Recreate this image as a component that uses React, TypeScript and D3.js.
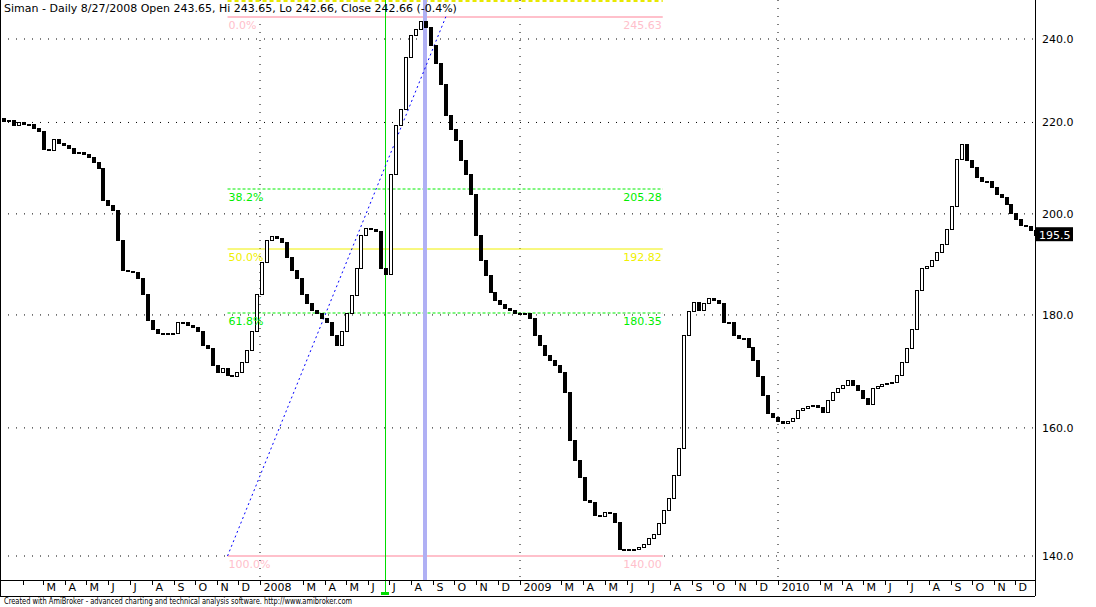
import React from "react";
import * as d3 from "d3";

// weekly closes (Friday of each week)
const closes2007 = [220.3, 220.5, 219.2, 220.0, 219.6, 219.5, 218.7, 218.0, 213.8, 213.6, 216.2, 215.3, 214.8, 214.2, 213.1, 213.3, 212.7, 212.0, 211.0, 209.6, 202.9, 201.8, 200.8, 194.6, 188.6, 188.4, 188.2, 187.0, 183.8, 179.0, 177.2, 176.6, 176.5, 176.5, 176.5, 178.6, 178.5, 178.0, 177.6, 176.9, 174.4, 173.9, 170.8, 169.5, 170.2, 169.0, 168.8, 169.5, 171.3, 173.5, 176.9, 183.8];
const closes2008 = [190.2, 194.6, 195.4, 195.0, 194.2, 191.2, 188.6, 187.0, 183.8, 182.2, 180.9, 180.2, 179.4, 178.5, 176.1, 174.4, 176.9, 180.3, 183.6, 189.0, 195.6, 197.0, 196.7, 196.3, 189.0, 187.8, 208.3, 219.4, 222.9, 235.3, 241.0, 242.3, 244.3, 242.8, 238.5, 234.0, 228.8, 221.6, 218.4, 216.0, 211.5, 208.3, 204.0, 195.6, 190.6, 187.6, 184.3, 182.8, 181.9, 181.3, 180.9, 180.3];
const closes2009 = [180.0, 180.2, 179.4, 176.1, 174.4, 172.6, 171.7, 170.8, 169.5, 166.0, 157.9, 154.7, 152.0, 148.4, 148.1, 146.1, 145.9, 146.5, 146.4, 145.0, 140.9, 140.9, 141.0, 140.9, 141.3, 141.7, 142.6, 143.1, 144.9, 146.8, 148.7, 152.3, 156.6, 176.1, 180.7, 182.4, 180.9, 182.2, 183.2, 182.8, 182.2, 178.5, 178.6, 176.1, 175.7, 175.7, 174.0, 171.7, 168.8, 165.5, 162.4, 161.7];
const closes2010 = [161.0, 160.7, 161.0, 161.5, 162.9, 163.3, 163.6, 163.8, 163.4, 162.6, 164.7, 166.1, 166.7, 167.3, 168.1, 167.3, 166.4, 165.0, 164.0, 166.7, 167.0, 167.4, 167.6, 167.8, 169.0, 171.3, 173.9, 177.2, 184.7, 189.0, 189.4, 190.6, 192.2, 193.8, 196.7, 201.5, 211.7, 215.0, 211.5, 209.8, 207.7, 206.8, 206.8, 205.5, 204.0, 203.4, 201.9, 200.0, 198.8, 197.6, 197.4, 196.5, 195.5];
const firstOpen = 220.8;

const priceTicks = [140, 160, 180, 200, 220, 240];
const monthLetters = ["J", "F", "M", "A", "M", "J", "J", "A", "S", "O", "N", "D"];

const fibPercents = ["0.0%", "38.2%", "50.0%", "61.8%", "100.0%"];
const fibPrices = [245.63, 205.28, 192.82, 180.35, 140.0];
const fibColors = ["#ffc0cb", "#00ee00", "#f0f000", "#00ee00", "#ffc0cb"];

const title = "Siman - Daily 8/27/2008 Open 243.65, Hi 243.65, Lo 242.66, Close 242.66 (-0.4%)";
const lastValue = 195.5;

const W = 1096;
const H = 607;
const plotRight = 1035;
const axisTop = 580;
const axisBottom = 596;

export default function App() {
  const x = d3
    .scaleTime()
    .domain([new Date(2006, 11, 30), new Date(2011, 0, 1)])
    .range([0, 1037]);
  const y = d3.scaleLog().domain([140, 240]).range([556, 39]);

  const closes = [...closes2007, ...closes2008, ...closes2009, ...closes2010];
  const dates = d3.timeFriday.range(new Date(2007, 0, 5), new Date(2011, 0, 1));
  const bars = closes.map((c, i) => ({
    date: dates[i],
    open: i === 0 ? firstOpen : closes[i - 1],
    close: c,
  }));

  const months = d3
    .timeMonth.range(new Date(2007, 1, 1), new Date(2011, 0, 1))
    .filter((m) => !(m.getMonth() === 1 && m.getFullYear() > 2007));
  const monthLabel = (m: Date) => {
    if (m.getMonth() === 0) return String(m.getFullYear());
    if (m.getFullYear() === 2007 && m.getMonth() === 1) return "";
    return monthLetters[m.getMonth()];
  };
  const yearLines = [new Date(2008, 0, 1), new Date(2009, 0, 1), new Date(2010, 0, 1)];

  const fibStart = new Date(2007, 10, 16);
  const fibTop = new Date(2008, 8, 19);
  const fibEnd = new Date(2009, 6, 22);
  const fx0 = x(fibStart);
  const fx1 = x(fibEnd);

  const markLine = new Date(2008, 5, 25);
  const selLine = new Date(2008, 7, 21);

  const font = "'DejaVu Sans', Verdana, sans-serif";

  return (
    <svg
      width={W}
      height={H}
      style={{ position: "fixed", left: 0, top: 0, background: "#fff" }}
      fontFamily={font}
    >
      <defs>
        <clipPath id="plot">
          <rect x={0} y={0} width={plotRight} height={axisTop} />
        </clipPath>
      </defs>
      <rect width={W} height={H} fill="#fff" />

      {/* dotted grid */}
      {priceTicks.map((p) => (
        <line key={p} x1={0} x2={plotRight} y1={y(p)} y2={y(p)} stroke="#000" strokeDasharray="1 7" />
      ))}
      {yearLines.map((d, i) => (
        <line key={i} x1={Math.round(x(d))} x2={Math.round(x(d))} y1={0} y2={axisTop} stroke="#000" strokeDasharray="1 7" />
      ))}

      {/* fibonacci levels */}
      <line x1={fx0} x2={fx1} y1={1} y2={1} stroke="#e8e800" strokeWidth={2} strokeDasharray="4 3" />
      {fibPrices.map((p, i) => (
        <line
          key={p}
          x1={fx0}
          x2={fx1}
          y1={Math.round(y(p))}
          y2={Math.round(y(p))}
          stroke={fibColors[i]}
          strokeWidth={i === 0 || i === 4 ? 2 : 1}
          strokeDasharray={i === 1 || i === 3 ? "3 2" : undefined}
        />
      ))}

      {/* marker lines */}
      <line x1={Math.round(x(markLine)) + 0.5} x2={Math.round(x(markLine)) + 0.5} y1={0} y2={593} stroke="#00dd00" />
      <rect x={Math.round(x(markLine)) - 4} y={592} width={8} height={3} fill="#00dd00" />
      <rect x={Math.round(x(selLine)) - 2} y={0} width={4} height={axisTop} fill="#b0b0f4" />

      {/* trend line */}
      <line x1={fx0} y1={y(140)} x2={x(fibTop)} y2={y(245.63)} stroke="#0000ff" strokeDasharray="2 3" />

      {/* candles */}
      <g clipPath="url(#plot)" shapeRendering="crispEdges">
        {bars.map((b, i) => {
          const cx = Math.round(x(b.date));
          const top = y(Math.max(b.open, b.close));
          const bot = y(Math.min(b.open, b.close));
          const up = b.close >= b.open;
          return (
            <rect
              key={i}
              x={cx - 1.5}
              y={top}
              width={3}
              height={Math.max(1, bot - top)}
              fill={up ? "#fff" : "#000"}
              stroke="#000"
              strokeWidth={1}
            />
          );
        })}
      </g>

      {/* fib labels */}
      <g fontSize={11}>
        {fibPrices.map((p, i) => (
          <g key={p} fill={fibColors[i]}>
            <text x={fx0 + 1} y={Math.round(y(p)) + 12}>
              {fibPercents[i]}
            </text>
            <text x={fx1 - 1} y={Math.round(y(p)) + 12} textAnchor="end">
              {p.toFixed(2)}
            </text>
          </g>
        ))}
      </g>

      {/* frame */}
      <line x1={0.5} x2={0.5} y1={0} y2={axisBottom} stroke="#000" />
      <line x1={plotRight + 0.5} x2={plotRight + 0.5} y1={0} y2={axisBottom} stroke="#000" />
      <line x1={0} x2={plotRight} y1={axisTop + 0.5} y2={axisTop + 0.5} stroke="#000" />
      <line x1={0} x2={plotRight} y1={axisBottom + 0.5} y2={axisBottom + 0.5} stroke="#000" />

      {/* x axis */}
      <g fontSize={11} fill="#000">
        {months.map((m, i) => {
          const mx = Math.round(x(m)) + 0.5;
          return (
            <g key={i}>
              <line x1={mx} x2={mx} y1={axisTop} y2={axisTop + 5} stroke="#000" />
              <text x={mx + 3} y={591}>
                {monthLabel(m)}
              </text>
            </g>
          );
        })}
      </g>

      {/* y axis */}
      <g fontSize={11} fill="#000">
        {priceTicks.map((p) => (
          <text key={p} x={1042} y={y(p) + 4}>
            {p.toFixed(1)}
          </text>
        ))}
      </g>
      <rect x={1036} y={y(lastValue) - 8.5} width={37} height={14} fill="#000" />
      <text x={1039} y={y(lastValue) + 3} fontSize={11} fill="#fff">
        {lastValue.toFixed(1)}
      </text>

      {/* title */}
      <text x={4} y={12} fontSize={11} fill="#000">
        {title}
      </text>

      <text x={4} y={604} fontSize={9} fill="#000" textLength={348} lengthAdjust="spacingAndGlyphs">
        Created with AmiBroker - advanced charting and technical analysis software. http://www.amibroker.com
      </text>
    </svg>
  );
}
